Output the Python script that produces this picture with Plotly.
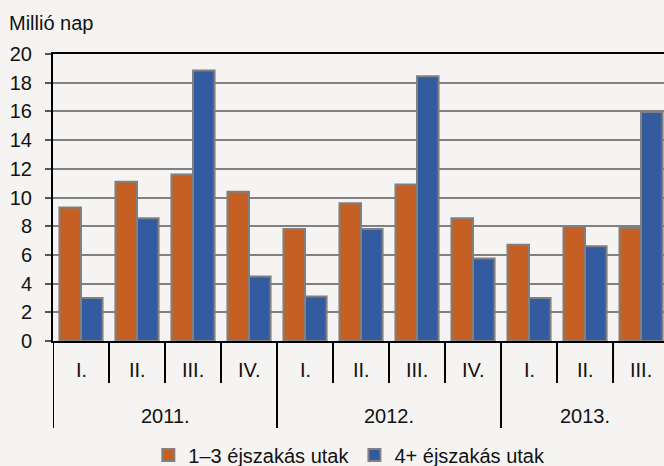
import plotly.graph_objects as go

# ---- data ----
years = ["2011.", "2011.", "2011.", "2011.",
         "2012.", "2012.", "2012.", "2012.",
         "2013.", "2013.", "2013."]
quarters = ["I.", "II.", "III.", "IV.",
            "I.", "II.", "III.", "IV.",
            "I.", "II.", "III."]
short_trips = [9.3, 11.1, 11.6, 10.4, 7.8, 9.6, 10.9, 8.55, 6.7, 8.0, 7.9]
long_trips = [3.0, 8.55, 18.85, 4.5, 3.1, 7.8, 18.45, 5.75, 3.0, 6.6, 15.95]
y_ticks = [0, 2, 4, 6, 8, 10, 12, 14, 16, 18, 20]
series_names = ["1–3 éjszakás utak", "4+ éjszakás utak"]
y_title = "Millió nap"

# ---- styles ----
FONT = "Liberation Sans, Arial, sans-serif"
FS = 20
BG = "#F5F4F2"
ORANGE = "#C55F23"
BLUE = "#345BA0"
GRAY = "#808080"

x_idx = list(range(len(quarters)))

fig = go.Figure()
fig.add_trace(go.Bar(x=x_idx, y=short_trips, name=series_names[0],
                     marker=dict(color=ORANGE, line=dict(color=GRAY, width=2))))
fig.add_trace(go.Bar(x=x_idx, y=long_trips, name=series_names[1],
                     marker=dict(color=BLUE, line=dict(color=GRAY, width=2))))

n = len(quarters)
fig.update_layout(
    width=664, height=466,
    margin=dict(l=53, r=0, t=54, b=125, autoexpand=False),
    paper_bgcolor=BG, plot_bgcolor=BG,
    barmode="group", bargap=0.23, bargroupgap=0,
    font=dict(family=FONT, size=FS, color="#111111"),
    showlegend=True,
    legend=dict(orientation="h", x=0.485, xanchor="center", y=-0.397, yanchor="middle",
                font=dict(size=FS), bgcolor="rgba(0,0,0,0)", traceorder="normal"),
    xaxis=dict(range=[-0.5, n - 0.5 - 0.09], showticklabels=False, ticks="",
               showgrid=False, zeroline=False, showline=True, linecolor="black",
               linewidth=2, mirror=True, fixedrange=True),
    yaxis=dict(range=[0, 20], tickvals=y_ticks, showgrid=True, gridcolor=GRAY,
               gridwidth=2, zeroline=False, showline=True, linecolor="black",
               linewidth=2, ticks="outside", ticklen=6, tickwidth=2, tickcolor="#555555",
               ticklabelstandoff=9, tickfont=dict(size=FS), fixedrange=True),
)

# y-axis title at top-left
fig.add_annotation(text=y_title, xref="paper", yref="paper", x=0, y=1,
                   xanchor="left", yanchor="middle", xshift=-46, yshift=31,
                   showarrow=False, font=dict(size=FS))

# quarter labels
for i, q in enumerate(quarters):
    fig.add_annotation(text=q, xref="x", yref="paper", x=i, y=0, yshift=-29,
                       yanchor="middle", showarrow=False, font=dict(size=FS))

# year labels (centered under their quarters)
year_order = []
for y in years:
    if y not in year_order:
        year_order.append(y)
for yr in year_order:
    idx = [i for i, v in enumerate(years) if v == yr]
    fig.add_annotation(text=yr, xref="x", yref="paper", x=sum(idx) / len(idx), y=0,
                       yshift=-75, yanchor="middle", showarrow=False, font=dict(size=FS))

# separators
for i in range(n):
    b = i - 0.5
    is_year = (i == 0) or (years[i] != years[i - 1])
    fig.add_shape(type="line", xref="x", yref="paper", ysizemode="pixel", yanchor=0,
                  x0=b, x1=b, y0=0, y1=-87 if is_year else -42,
                  line=dict(color="black", width=2))

fig.write_html("out.html", config={"displayModeBar": False},
               post_script="document.body.style.margin='0px';document.body.style.overflow='hidden';")
